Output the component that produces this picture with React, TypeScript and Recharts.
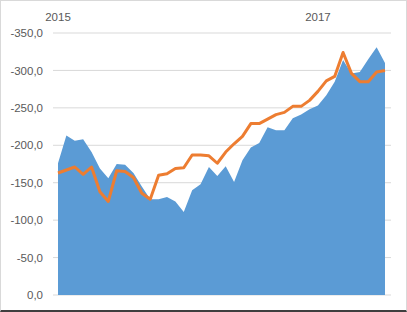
import React from "react";
import {
  ComposedChart,
  Area,
  Line,
  XAxis,
  YAxis,
  CartesianGrid,
} from "recharts";

// 40 periods, year labels only where the reference shows them
const tickLabels = [
  "2015", "", "", "", "", "", "", "", "", "",
  "", "", "", "", "", "", "", "", "", "",
  "", "", "", "", "", "", "", "", "", "",
  "", "2017", "", "", "", "", "", "", "", "",
];

// blue area series
const areaValues = [
  -176, -213, -206, -208, -191, -169, -156, -175, -174, -163,
  -145, -128, -128, -131, -125, -111, -140, -148, -171, -159,
  -172, -151, -180, -197, -203, -224, -220, -220, -236, -241,
  -248, -253, -267, -285, -314, -296, -298, -315, -331, -310,
];

// orange line series
const lineValues = [
  -163, -167, -171, -161, -171, -138, -125, -166, -165, -157,
  -136, -128, -160, -162, -169, -170, -187, -187, -186, -176,
  -191, -202, -212, -229, -229, -235, -241, -244, -252, -252,
  -260, -272, -286, -292, -324, -296, -285, -285, -298, -300,
];

const yTicks = [-350, -300, -250, -200, -150, -100, -50, 0];

const data = areaValues.map((v, i) => ({
  i,
  area: v,
  line: lineValues[i],
}));

const fmt = (v: number) => v.toFixed(1).replace(".", ",");

const YearTick = (props: any) => {
  const { x, payload } = props;
  const label = tickLabels[payload.value];
  if (!label) return null;
  return (
    <text
      x={x}
      y={21}
      textAnchor="middle"
      fill="#595959"
      fontSize={11.5}
      fontFamily="'Liberation Sans', Arial, sans-serif"
    >
      {label}
    </text>
  );
};

export default function App() {
  return (
    <div
      style={{
        position: "absolute",
        left: 0,
        top: 0,
        width: 407,
        height: 312,
        background: "#fff",
      }}
    >
      <ComposedChart
        width={407}
        height={312}
        data={data}
        margin={{ top: 0, right: 16, bottom: 17, left: 5 }}
      >
        <CartesianGrid vertical={false} stroke="#d9d9d9" />
        <XAxis
          dataKey="i"
          orientation="top"
          height={33}
          axisLine={false}
          tickLine={false}
          interval={0}
          padding={{ left: 5, right: 6 }}
          tick={<YearTick />}
        />
        <YAxis
          type="number"
          reversed
          domain={[-350, 0]}
          ticks={yTicks}
          width={48}
          axisLine={false}
          tickLine={false}
          tickSize={0}
          tickMargin={10}
          tickFormatter={fmt}
          tick={{
            fill: "#595959",
            fontSize: 11.5,
            fontFamily: "'Liberation Sans', Arial, sans-serif",
          }}
        />
        <Area
          type="linear"
          dataKey="area"
          baseValue={0}
          fill="#5b9bd5"
          fillOpacity={1}
          stroke="none"
          isAnimationActive={false}
        />
        <Line
          type="linear"
          dataKey="line"
          stroke="#ed7d31"
          strokeWidth={3}
          strokeLinejoin="round"
          dot={false}
          isAnimationActive={false}
        />
      </ComposedChart>
      <div
        style={{
          position: "absolute",
          left: 0,
          top: 0,
          width: 407,
          height: 312,
          boxSizing: "border-box",
          borderLeft: "1px solid #d9d9d9",
          borderTop: "1px solid #d9d9d9",
          borderRight: "1px solid #d9d9d9",
          borderBottom: "2px solid #3f3f3f",
          pointerEvents: "none",
        }}
      />
    </div>
  );
}
